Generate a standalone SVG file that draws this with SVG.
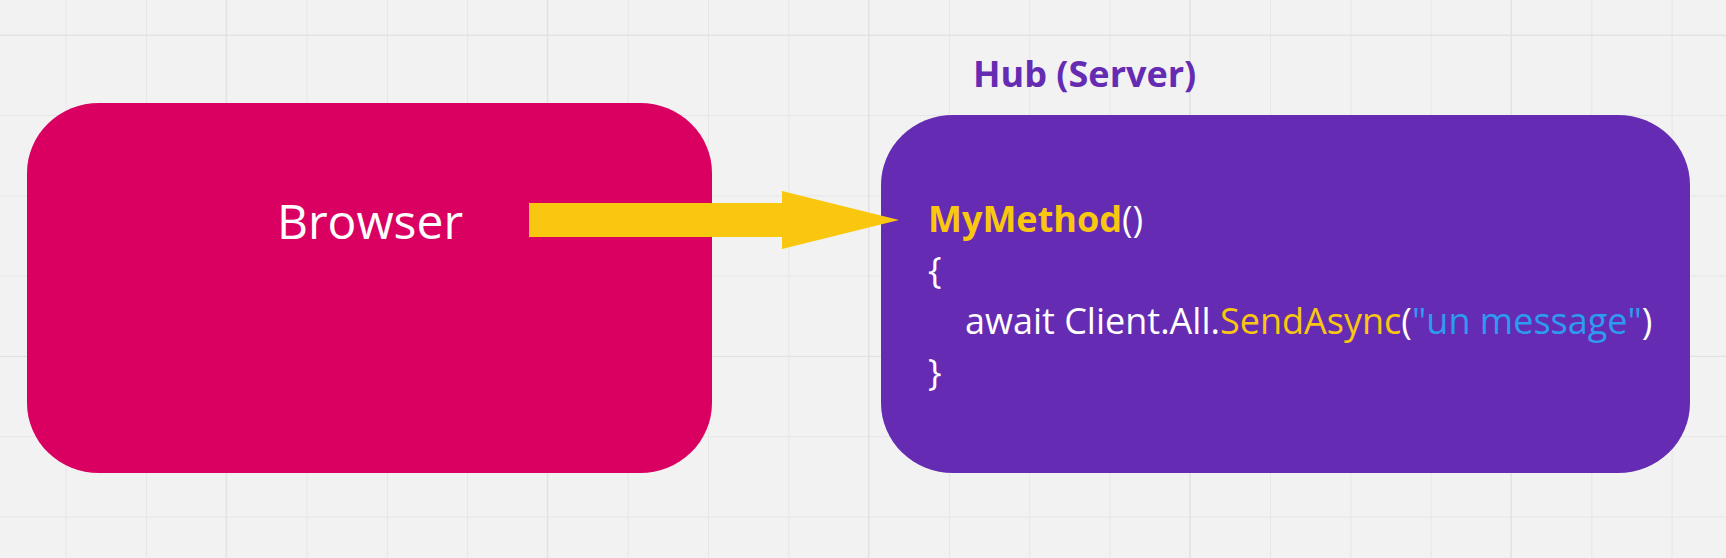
<svg xmlns="http://www.w3.org/2000/svg" width="1726" height="558" viewBox="0 0 1726 558">
<defs>
<pattern id="grid" x="-13.7" y="-44.6" width="80.3" height="80.3" patternUnits="userSpaceOnUse">
<path d="M80.3 0 V80.3 M0 80.3 H80.3" stroke="#e6e6e6" stroke-width="2" fill="none"/>
</pattern>
<pattern id="major" x="-94.5" y="-285.5" width="321.2" height="321.2" patternUnits="userSpaceOnUse">
<path d="M321.2 0 V321.2 M0 321.2 H321.2" stroke="#e0e0e0" stroke-width="2" fill="none"/>
</pattern>
<style>
.code{font-family:"Open Sans","Liberation Sans",sans-serif;font-size:36px;fill:#ffffff}
.y{fill:#fac710}
.b{fill:#2d9bf0}
</style>
</defs>
<rect width="1726" height="558" fill="#f2f2f2"/>
<rect width="1726" height="558" fill="url(#grid)"/>
<rect width="1726" height="558" fill="url(#major)"/>
<g id="browser">
<rect x="27" y="103" width="685" height="370" rx="72" ry="70" fill="#d90062"/>
<text x="370" y="239" text-anchor="middle" font-family="Open Sans, Liberation Sans, sans-serif" font-size="48" fill="#ffffff">Browser</text>
</g>
<g id="hub-title">
<text x="973" y="87" font-family="Open Sans, Liberation Sans, sans-serif" font-size="36" font-weight="bold" fill="#652cb3">Hub (Server)</text>
</g>
<g id="hub">
<rect x="881" y="115" width="809" height="358" rx="72" ry="70" fill="#652cb3"/>
<text class="code" x="928" y="232"><tspan class="y" font-weight="bold">MyMethod</tspan>()</text>
<text class="code" x="928" y="283">{</text>
<text class="code" x="965" y="334">await Client.All.<tspan class="y">SendAsync</tspan>(<tspan class="b">"un message"</tspan>)</text>
<text class="code" x="928" y="385">}</text>
</g>
<g id="connectors">
<polygon points="529,203 782,203 782,191 899,220 782,249 782,237 529,237" fill="#fac710"/>
</g>
</svg>
